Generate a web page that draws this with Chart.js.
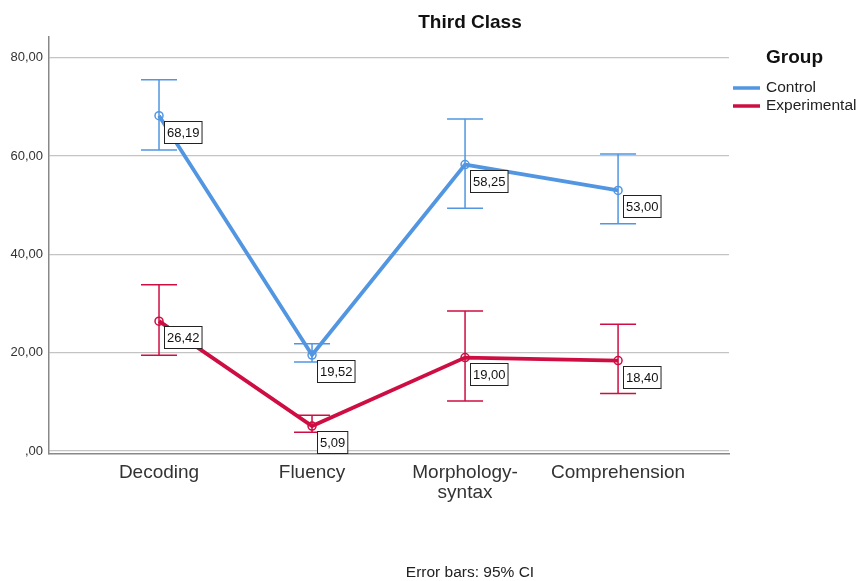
<!DOCTYPE html>
<html>
<head>
<meta charset="utf-8">
<script src="https://cdn.jsdelivr.net/npm/chart.js@4"></script>
<style>
  html, body { margin: 0; padding: 0; background: #fff; }
  #wrap { width: 861px; height: 581px; position: relative; }
</style>
</head>
<body>
<div id="wrap"><canvas id="chart"></canvas></div>
<script>
// Chart values
const categories = ['Decoding', 'Fluency', ['Morphology-', 'syntax'], 'Comprehension'];
const groups = ['Control', 'Experimental'];
const controlMeans = [68.19, 19.52, 58.25, 53.00];
const controlLower = [61.2, 18.1, 49.4, 46.2];
const controlUpper = [75.5, 21.8, 67.5, 60.4];
const experimentalMeans = [26.42, 5.09, 19.00, 18.40];
const experimentalLower = [19.5, 3.8, 10.2, 11.7];
const experimentalUpper = [33.8, 7.3, 28.5, 25.8];
const yTicks = [0, 20, 40, 60, 80];

const BLUE = 'rgb(82,150,226)';
const RED = 'rgb(206,14,66)';

const fmt = v => v === 0 ? ',00' : v.toFixed(2).replace('.', ',');

// error bars, drawn under the lines
const errorBars = {
    id: 'errorBars',
    beforeDatasetsDraw(chart) {
        const { ctx, scales: { x, y } } = chart;
        chart.data.datasets.forEach(ds => {
            ctx.save();
            ctx.strokeStyle = ds.borderColor;
            ctx.lineWidth = 1.5;
            ds.lower.forEach((lo, i) => {
                const px = x.getPixelForValue(i + 1);
                const yl = y.getPixelForValue(lo);
                const yh = y.getPixelForValue(ds.upper[i]);
                ctx.beginPath();
                ctx.moveTo(px, yl); ctx.lineTo(px, yh);
                ctx.moveTo(px - 18, yl); ctx.lineTo(px + 18, yl);
                ctx.moveTo(px - 18, yh); ctx.lineTo(px + 18, yh);
                ctx.stroke();
            });
            ctx.restore();
        });
    }
};

// value boxes + title, legend, footnote
const decorations = {
    id: 'decorations',
    afterDatasetsDraw(chart) {
        const { ctx } = chart;
        ctx.save();
        ctx.font = '13px Arial, "Liberation Sans"';
        ctx.textBaseline = 'middle';
        chart.data.datasets.forEach((ds, di) => {
            const meta = chart.getDatasetMeta(di);
            meta.data.forEach((pt, i) => {
                const txt = fmt(ds.data[i].y);
                const w = ctx.measureText(txt).width + 5;
                const bx = Math.round(pt.x) + 5.5, by = Math.round(pt.y) + 5.5;
                ctx.fillStyle = '#fff';
                ctx.fillRect(bx, by, w, 22);
                ctx.strokeStyle = '#222';
                ctx.lineWidth = 1;
                ctx.strokeRect(bx, by, w, 22);
                ctx.fillStyle = '#111';
                ctx.textAlign = 'left';
                ctx.fillText(txt, bx + 2.5, by + 11.5);
            });
        });

        // title
        ctx.fillStyle = '#111';
        ctx.textAlign = 'center';
        ctx.font = 'bold 19px Arial, "Liberation Sans"';
        ctx.fillText('Third Class', 470, 23);

        // footnote
        ctx.font = '15.5px Arial, "Liberation Sans"';
        ctx.fillStyle = '#222';
        ctx.fillText('Error bars: 95% CI', 470, 573);

        // legend
        ctx.textAlign = 'left';
        ctx.font = 'bold 19px Arial, "Liberation Sans"';
        ctx.fillStyle = '#111';
        ctx.fillText('Group', 766, 58);
        ctx.font = '15.5px Arial, "Liberation Sans"';
        chart.data.datasets.forEach((ds, di) => {
            const ly = 88 + di * 18;
            ctx.strokeStyle = ds.borderColor;
            ctx.lineWidth = 3.5;
            ctx.beginPath();
            ctx.moveTo(733, ly); ctx.lineTo(760, ly);
            ctx.stroke();
            ctx.fillStyle = '#222';
            ctx.fillText(ds.label, 766, ly);
        });
        ctx.restore();
    }
};

const toPoints = arr => arr.map((v, i) => ({ x: i + 1, y: v }));

new Chart(document.getElementById('chart'), {
    type: 'line',
    data: {
        datasets: [
            {
                label: groups[0],
                data: toPoints(controlMeans),
                lower: controlLower,
                upper: controlUpper,
                borderColor: BLUE,
                borderWidth: 3.8,
                pointRadius: 4,
                pointBorderWidth: 1.5,
                pointBackgroundColor: 'rgba(255,255,255,0)',
                pointBorderColor: BLUE
            },
            {
                label: groups[1],
                data: toPoints(experimentalMeans),
                lower: experimentalLower,
                upper: experimentalUpper,
                borderColor: RED,
                borderWidth: 3.8,
                pointRadius: 4,
                pointBorderWidth: 1.5,
                pointBackgroundColor: 'rgba(255,255,255,0)',
                pointBorderColor: RED
            }
        ]
    },
    options: {
        responsive: true,
        maintainAspectRatio: false,
        animation: false,
        layout: { padding: { left: 0, top: 37, right: 132, bottom: 0 } },
        plugins: {
            legend: { display: false },
            tooltip: { enabled: false }
        },
        scales: {
            x: {
                type: 'linear',
                min: 0.281,
                max: 4.725,
                afterBuildTicks: axis => { axis.ticks = categories.map((c, i) => ({ value: i + 1 })); },
                afterFit: axis => { axis.height = 127; },
                grid: { display: false, drawTicks: false },
                border: { color: '#888', width: 1.5 },
                ticks: {
                    padding: 9,
                    autoSkip: false,
                    maxRotation: 0,
                    color: '#333',
                    font: { family: 'Arial, "Liberation Sans"', size: 19, lineHeight: 1.05 },
                    callback: v => categories[v - 1]
                }
            },
            y: {
                min: -0.6,
                max: 84.2,
                afterBuildTicks: axis => { axis.ticks = yTicks.map(v => ({ value: v })); },
                afterFit: axis => { axis.width = 49; },
                grid: { color: '#c4c4c4', lineWidth: 1.2, drawTicks: false },
                border: { color: '#888', width: 1.5 },
                ticks: {
                    padding: 6,
                    color: '#333',
                    font: { family: 'Arial, "Liberation Sans"', size: 13 },
                    callback: v => fmt(v)
                }
            }
        }
    },
    plugins: [errorBars, decorations]
});
</script>
</body>
</html>
